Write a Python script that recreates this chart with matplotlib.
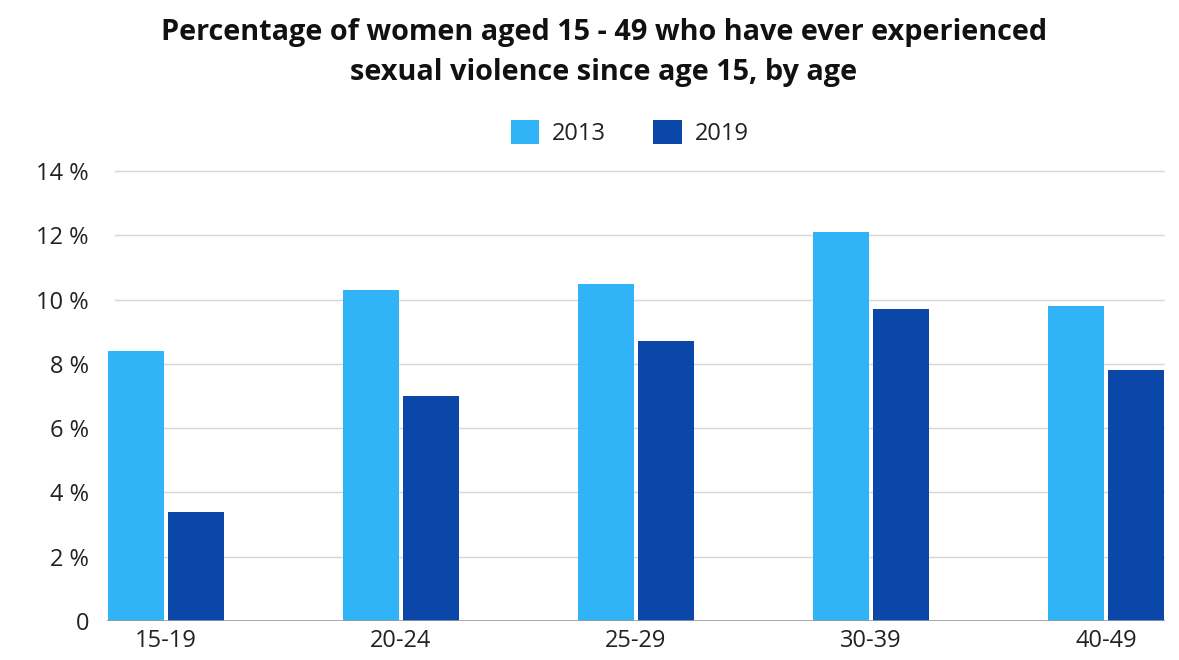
import numpy as np
import matplotlib.pyplot as plt
from matplotlib.ticker import FuncFormatter

plt.rcParams["font.family"] = ["Open Sans", "DejaVu Sans"]

age_groups = ["15-19", "20-24", "25-29", "30-39", "40-49"]
pct_2013 = [8.4, 10.3, 10.5, 12.1, 9.8]
pct_2019 = [3.4, 7.0, 8.7, 9.7, 7.8]
years = ["2013", "2019"]

colors = ["#30b4f7", "#0a47a9"]
text_color = "#222222"

fig = plt.figure(figsize=(11.79, 6.6), dpi=100)
ax = fig.add_axes([107 / 1179, 1 - 621 / 660, (1165 - 107) / 1179, 450 / 660 * 15 / 14])

x = np.arange(len(age_groups))
width = 0.238
offset = 0.128

ax.bar(x - offset, pct_2013, width=width, color=colors[0], label=years[0], zorder=3)
ax.bar(x + offset, pct_2019, width=width, color=colors[1], label=years[1], zorder=3)

ax.set_xlim(-0.25, 4.25)
ax.set_ylim(0, 15)
ax.set_yticks(np.arange(0, 15, 2))
ax.yaxis.set_major_formatter(FuncFormatter(lambda v, _: "0" if v == 0 else f"{v:.0f} %"))
ax.set_xticks(x)
ax.set_xticklabels(age_groups)

# gridlines start a little right of the first bar
for y in np.arange(2, 15, 2):
    ax.axhline(y, xmin=8 / 1058, color="#d6d6d6", linewidth=1, zorder=1)
ax.axhline(0, color="#9a9a9a", linewidth=1.2, zorder=4)

for side in ["top", "right", "left", "bottom"]:
    ax.spines[side].set_visible(False)
ax.tick_params(axis="both", length=0, labelsize=17, colors=text_color)
ax.tick_params(axis="y", pad=13)
ax.tick_params(axis="x", pad=6)

fig.text(0.512, 0.972, "Percentage of women aged 15 - 49 who have ever experienced\nsexual violence since age 15, by age",
         ha="center", va="top", fontsize=20.8, fontweight="bold", color="#111111", linespacing=1.5)

fig.legend(loc="center", bbox_to_anchor=(0.534, 1 - 133 / 660), ncol=2, frameon=False,
           fontsize=17, handlelength=1.2, handleheight=1.2, columnspacing=2.0,
           handletextpad=0.55, labelcolor=text_color)

fig.savefig("out.png", dpi=100)
